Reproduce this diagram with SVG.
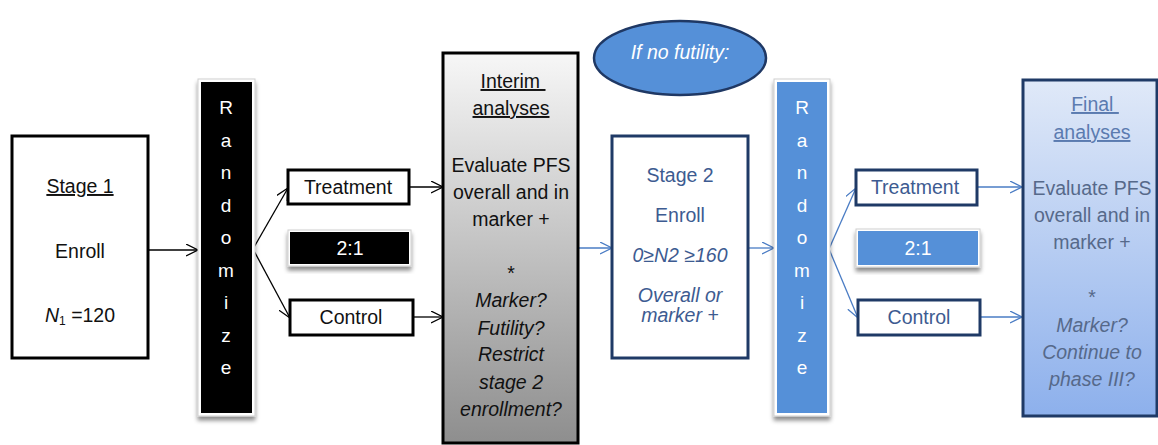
<svg xmlns="http://www.w3.org/2000/svg" width="1158" height="445" viewBox="0 0 1158 445">
  <defs>
    <style>
      text { font-family: "Liberation Sans", Arial, sans-serif; font-size: 19.5px; text-anchor: middle; }
      .it { font-style: italic; }
      .ul { text-decoration: underline; }
      .blk { fill: #111; }
      .blu { fill: #3d5b91; }
      .gry { fill: #56698a; }
      .wht { fill: #ffffff; }
      .letter { font-size: 19px; fill: #ffffff; }
      .box-k { fill: #ffffff; stroke: #000; stroke-width: 3; }
      .box-b { fill: #ffffff; stroke: #1f3a66; stroke-width: 3; }
      .frame { fill: #ffffff; stroke: #cfcfcf; stroke-width: 1; }
      .con-k { fill: none; stroke: #000; stroke-width: 1.3; }
      .con-b { fill: none; stroke: #4a7cc4; stroke-width: 1.3; }
    </style>
    <linearGradient id="gradGray" x1="0" y1="0" x2="0" y2="1">
      <stop offset="0" stop-color="#f7f7f7"/>
      <stop offset="1" stop-color="#8e8e8e"/>
    </linearGradient>
    <linearGradient id="gradBlue" x1="0" y1="0" x2="0" y2="1">
      <stop offset="0" stop-color="#e0e9f8"/>
      <stop offset="1" stop-color="#8db0ec"/>
    </linearGradient>
    <filter id="shadow" x="-20%" y="-20%" width="140%" height="140%">
      <feDropShadow dx="0" dy="4" stdDeviation="2" flood-color="#000" flood-opacity="0.45"/>
    </filter>
    <marker id="arrowK" markerUnits="userSpaceOnUse" markerWidth="14" markerHeight="14" refX="12" refY="6" orient="auto">
      <path d="M0,0 L12,6 L0,12" fill="none" stroke="#000" stroke-width="1.3"/>
    </marker>
    <marker id="arrowB" markerUnits="userSpaceOnUse" markerWidth="14" markerHeight="14" refX="12" refY="6" orient="auto">
      <path d="M0,0 L12,6 L0,12" fill="none" stroke="#4a7cc4" stroke-width="1.3"/>
    </marker>
  </defs>

  <rect width="1158" height="445" fill="#ffffff"/>

  <!-- connectors -->
  <g id="connectors">
    <line class="con-k" x1="148" y1="250" x2="198" y2="250" marker-end="url(#arrowK)"/>
    <line class="con-k" x1="253" y1="249" x2="288" y2="188" marker-end="url(#arrowK)"/>
    <line class="con-k" x1="253" y1="249" x2="290" y2="318" marker-end="url(#arrowK)"/>
    <line class="con-k" x1="409" y1="187" x2="443" y2="187" marker-end="url(#arrowK)"/>
    <line class="con-k" x1="413" y1="317" x2="443" y2="317" marker-end="url(#arrowK)"/>
    <line class="con-b" x1="578" y1="248" x2="612" y2="248" marker-end="url(#arrowB)"/>
    <line class="con-b" x1="748" y1="248" x2="774" y2="248" marker-end="url(#arrowB)"/>
    <line class="con-b" x1="829" y1="249" x2="856" y2="188" marker-end="url(#arrowB)"/>
    <line class="con-b" x1="829" y1="249" x2="858" y2="318" marker-end="url(#arrowB)"/>
    <line class="con-b" x1="977" y1="187" x2="1022" y2="187" marker-end="url(#arrowB)"/>
    <line class="con-b" x1="980" y1="317" x2="1022" y2="317" marker-end="url(#arrowB)"/>
  </g>

  <!-- stage 1 -->
  <g id="stage1">
    <rect class="box-k" x="12" y="136" width="136" height="222"/>
    <text class="blk ul" x="80" y="193">Stage 1</text>
    <text class="blk" x="80" y="258">Enroll</text>
    <text class="blk" x="80" y="322"><tspan class="it">N</tspan><tspan font-size="12" dy="3">1</tspan><tspan dy="-3"> =120</tspan></text>
  </g>

  <!-- randomize, stage 1 -->
  <g id="randomize1">
    <rect class="frame" x="198" y="79" width="57" height="337" filter="url(#shadow)"/>
    <rect x="201" y="82" width="51" height="331" fill="#000"/>
    <text class="letter" x="226" y="114">R</text>
    <text class="letter" x="226" y="147">a</text>
    <text class="letter" x="226" y="179">n</text>
    <text class="letter" x="226" y="212">d</text>
    <text class="letter" x="226" y="244">o</text>
    <text class="letter" x="226" y="277">m</text>
    <text class="letter" x="226" y="309">i</text>
    <text class="letter" x="226" y="342">z</text>
    <text class="letter" x="226" y="374">e</text>
  </g>

  <g id="treatment1">
    <rect class="box-k" x="288" y="170" width="121" height="34"/>
    <text class="blk" x="348" y="194">Treatment</text>
  </g>

  <g id="ratio1">
    <rect x="288" y="230" width="123" height="36" fill="#ffffff" stroke="#d0d0d0" stroke-width="1" filter="url(#shadow)"/>
    <rect x="290" y="232" width="119" height="32" fill="#000"/>
    <text class="wht" x="350" y="255">2:1</text>
  </g>

  <g id="control1">
    <rect class="box-k" x="290" y="300" width="123" height="35"/>
    <text class="blk" x="351" y="324">Control</text>
  </g>

  <!-- interim analyses -->
  <g id="interim">
    <rect x="443" y="53" width="135" height="390" fill="url(#gradGray)" stroke="#000" stroke-width="3"/>
    <text class="blk ul" x="513" y="88" xml:space="preserve">Interim </text>
    <text class="blk ul" x="511" y="115">analyses</text>
    <text class="blk" x="511" y="172">Evaluate PFS</text>
    <text class="blk" x="511" y="199">overall and in</text>
    <text class="blk" x="511" y="226">marker +</text>
    <text class="blk" x="511" y="280" font-size="14">*</text>
    <text class="blk it" x="511" y="307">Marker?</text>
    <text class="blk it" x="511" y="335">Futility?</text>
    <text class="blk it" x="511" y="361">Restrict</text>
    <text class="blk it" x="511" y="389">stage 2</text>
    <text class="blk it" x="511" y="416">enrollment?</text>
  </g>

  <!-- decision note -->
  <g id="noFutility">
    <ellipse cx="680" cy="58" rx="86" ry="37" fill="#5590d8" stroke="#1f3864" stroke-width="2.5"/>
    <text class="wht it" x="680" y="59" font-family="'Open Sans', sans-serif" font-size="17.5">If no futility:</text>
  </g>

  <!-- stage 2 -->
  <g id="stage2">
    <rect class="box-b" x="612" y="136" width="136" height="222"/>
    <text class="blu" x="680" y="182">Stage 2</text>
    <text class="blu" x="680" y="222">Enroll</text>
    <text class="blu it" x="680" y="262">0≥N2 ≥160</text>
    <text class="blu it" x="680" y="302">Overall or</text>
    <text class="blu it" x="680" y="322">marker +</text>
  </g>

  <!-- randomize, stage 2 -->
  <g id="randomize2">
    <rect class="frame" x="774" y="79" width="56" height="337" filter="url(#shadow)"/>
    <rect x="777" y="82" width="50" height="331" fill="#5590d8"/>
    <text class="letter" x="802" y="114">R</text>
    <text class="letter" x="802" y="147">a</text>
    <text class="letter" x="802" y="179">n</text>
    <text class="letter" x="802" y="212">d</text>
    <text class="letter" x="802" y="244">o</text>
    <text class="letter" x="802" y="277">m</text>
    <text class="letter" x="802" y="309">i</text>
    <text class="letter" x="802" y="342">z</text>
    <text class="letter" x="802" y="374">e</text>
  </g>

  <g id="treatment2">
    <rect class="box-b" x="856" y="170" width="121" height="35"/>
    <text class="blu" x="915" y="194">Treatment</text>
  </g>

  <g id="ratio2">
    <rect x="856" y="229" width="124" height="38" fill="#ffffff" stroke="#d0d0d0" stroke-width="1" filter="url(#shadow)"/>
    <rect x="858" y="231" width="120" height="34" fill="#5590d8"/>
    <text class="wht" x="918" y="255">2:1</text>
  </g>

  <g id="control2">
    <rect class="box-b" x="858" y="300" width="122" height="35"/>
    <text class="blu" x="919" y="324">Control</text>
  </g>

  <!-- final analyses -->
  <g id="final">
    <rect x="1023" y="80" width="134" height="336" fill="url(#gradBlue)" stroke="#1f3a66" stroke-width="3"/>
    <text class="ul" x="1095" y="111" fill="#5b7bb0" xml:space="preserve">Final </text>
    <text class="ul" x="1092" y="139" fill="#5b7bb0">analyses</text>
    <text class="gry" x="1092" y="195">Evaluate PFS</text>
    <text class="gry" x="1092" y="222">overall and in</text>
    <text class="gry" x="1092" y="249">marker +</text>
    <text class="gry" x="1092" y="304" font-size="14">*</text>
    <text class="gry it" x="1092" y="332">Marker?</text>
    <text class="gry it" x="1092" y="359">Continue to</text>
    <text class="gry it" x="1092" y="386">phase III?</text>
  </g>
</svg>
